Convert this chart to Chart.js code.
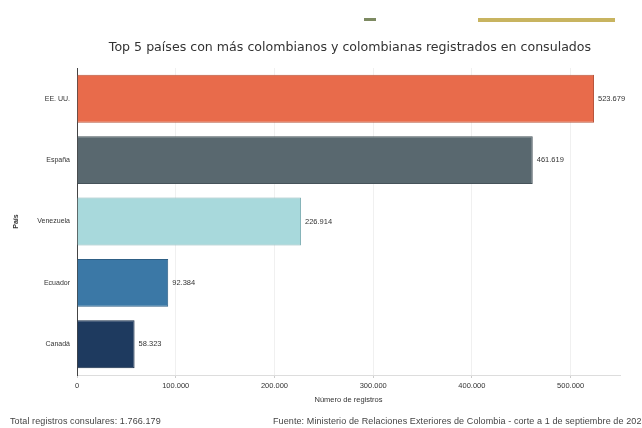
<!DOCTYPE html>
<html lang="es">
<head>
<meta charset="UTF-8">
<title>Top 5 países</title>
<script src="https://cdn.jsdelivr.net/npm/chart.js"></script>
<style>
    html, body { margin: 0; padding: 0; background: #fff; }
    .lienzo { position: relative; width: 642px; height: 428px; overflow: hidden; font-family: "Liberation Sans", Arial, sans-serif; }
    .lienzo canvas { position: absolute; left: 0; top: 0; }
    .marca1 { position: absolute; left: 364px; top: 18px; width: 12px; height: 3px; background: #7d8a62; }
    .marca2 { position: absolute; left: 478px; top: 18px; width: 137px; height: 4px; background: #c8b460; }
    .titulo { position: absolute; top: 39px; left: 0; width: 700px; text-align: center; font-family: "DejaVu Sans", sans-serif; font-size: 12.6px; color: #333; white-space: nowrap; }
    .pie { position: absolute; top: 416px; font-size: 9px; color: #444; white-space: nowrap; letter-spacing: 0.1px; }
</style>
</head>
<body>
<div class="lienzo">
    <div class="marca1"></div>
    <div class="marca2"></div>
    <canvas id="grafico" width="642" height="428"></canvas>
    <div class="titulo">Top 5 países con más colombianos y colombianas registrados en consulados</div>
    <div class="pie" style="left:10px">Total registros consulares: 1.766.179</div>
    <div class="pie" style="left:273px">Fuente: Ministerio de Relaciones Exteriores de Colombia - corte a 1 de septiembre de 2023</div>
</div>

<script>
    // datos
    const paises = ['EE. UU.', 'España', 'Venezuela', 'Ecuador', 'Canadá'];
    const registros = [523679, 461619, 226914, 92384, 58323];
    const colores = ['#e86b4b', '#59686f', '#a8d9dc', '#3b78a6', '#1e3a5f'];
    const bordes = ['#b8553c', '#46535a', '#86b4b8', '#2e5f85', '#152b47'];
    const marcas = [0, 100000, 200000, 300000, 400000, 500000];

    function formatoMiles(n) {
        return String(n).replace(/\B(?=(\d{3})+(?!\d))/g, '.');
    }

    // etiqueta con el valor al final de cada barra
    const etiquetas = {
        id: 'etiquetas',
        afterDatasetsDraw(chart) {
            const ctx = chart.ctx;
            const meta = chart.getDatasetMeta(0);
            ctx.save();
            ctx.font = '7.5px "Liberation Sans", Arial, sans-serif';
            ctx.fillStyle = '#333';
            ctx.textBaseline = 'middle';
            meta.data.forEach((barra, i) => {
                ctx.fillText(formatoMiles(registros[i]), barra.x + 4, barra.y);
            });
            ctx.restore();
        }
    };

    new Chart(document.getElementById('grafico'), {
        type: 'bar',
        data: {
            labels: paises,
            datasets: [{
                data: registros,
                backgroundColor: colores,
                borderColor: bordes,
                borderWidth: 1,
                barPercentage: 0.78,
                categoryPercentage: 1
            }]
        },
        options: {
            indexAxis: 'y',
            responsive: false,
            animation: false,
            layout: { padding: { top: 68, left: 12, right: 22, bottom: 24 } },
            plugins: {
                legend: { display: false },
                tooltip: { enabled: false }
            },
            scales: {
                x: {
                    min: 0,
                    max: 550000,
                    afterBuildTicks(escala) {
                        escala.ticks = marcas.map(v => ({ value: v }));
                    },
                    grid: { color: '#f0f0f0', tickColor: '#ccc', tickLength: 3 },
                    border: { color: '#ddd' },
                    ticks: {
                        color: '#333',
                        font: { size: 7.5 },
                        padding: 3,
                        callback: v => formatoMiles(v)
                    },
                    title: {
                        display: true,
                        text: 'Número de registros',
                        color: '#333',
                        font: { size: 7.5 },
                        padding: { top: 2, bottom: 0 }
                    }
                },
                y: {
                    afterFit(escala) { escala.width = 65; },
                    grid: { display: false, tickLength: 3 },
                    border: { color: '#444' },
                    ticks: { color: '#333', font: { size: 7 }, padding: 4 },
                    title: {
                        display: true,
                        text: 'País',
                        color: '#333',
                        font: { size: 7, weight: 'bold' },
                        padding: { top: 0, bottom: 0 }
                    }
                }
            }
        },
        plugins: [etiquetas]
    });
</script>
</body>
</html>
